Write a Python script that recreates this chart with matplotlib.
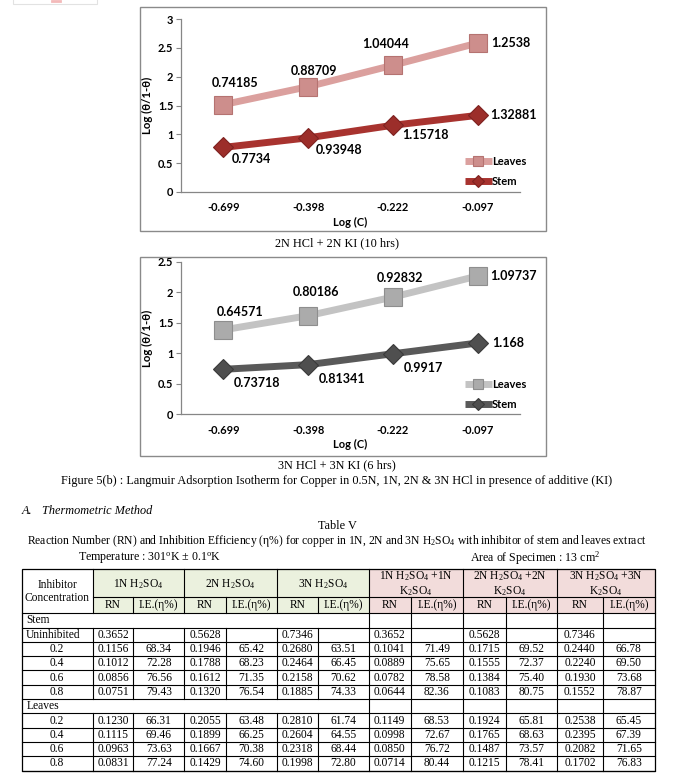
import matplotlib
matplotlib.use("Agg")
import matplotlib.pyplot as plt
import numpy as np
from matplotlib.patches import Rectangle
from matplotlib.ticker import FuncFormatter

# ── chart data (Excel stacked line: Leaves drawn on top of Stem) ─────────────
log_c      = ["-0.699", "-0.398", "-0.222", "-0.097"]
stem_2n    = [0.7734, 0.93948, 1.15718, 1.32881]
leaves_2n  = [0.74185, 0.88709, 1.04044, 1.2538]
stem_3n    = [0.73718, 0.81341, 0.9917, 1.168]
leaves_3n  = [0.64571, 0.80186, 0.92832, 1.09737]

# ── table data ───────────────────────────────────────────────────────────────
group_heads = [r"1N H$_2$SO$_4$", r"2N H$_2$SO$_4$", r"3N H$_2$SO$_4$",
               "1N H$_2$SO$_4$ +1N\nK$_2$SO$_4$",
               "2N H$_2$SO$_4$ +2N\nK$_2$SO$_4$",
               "3N H$_2$SO$_4$ +3N\nK$_2$SO$_4$"]
sub_heads   = ["RN", "I.E.(η%)"]
stem_conc   = ["Uninhibited", "0.2", "0.4", "0.6", "0.8"]
stem_rows   = [
    ["0.3652", "", "0.5628", "", "0.7346", "", "0.3652", "", "0.5628", "", "0.7346", ""],
    ["0.1156", "68.34", "0.1946", "65.42", "0.2680", "63.51", "0.1041", "71.49", "0.1715", "69.52", "0.2440", "66.78"],
    ["0.1012", "72.28", "0.1788", "68.23", "0.2464", "66.45", "0.0889", "75.65", "0.1555", "72.37", "0.2240", "69.50"],
    ["0.0856", "76.56", "0.1612", "71.35", "0.2158", "70.62", "0.0782", "78.58", "0.1384", "75.40", "0.1930", "73.68"],
    ["0.0751", "79.43", "0.1320", "76.54", "0.1885", "74.33", "0.0644", "82.36", "0.1083", "80.75", "0.1552", "78.87"],
]
leaves_conc = ["0.2", "0.4", "0.6", "0.8"]
leaves_rows = [
    ["0.1230", "66.31", "0.2055", "63.48", "0.2810", "61.74", "0.1149", "68.53", "0.1924", "65.81", "0.2538", "65.45"],
    ["0.1115", "69.46", "0.1899", "66.25", "0.2604", "64.55", "0.0998", "72.67", "0.1765", "68.63", "0.2395", "67.39"],
    ["0.0963", "73.63", "0.1667", "70.38", "0.2318", "68.44", "0.0850", "76.72", "0.1487", "73.57", "0.2082", "71.65"],
    ["0.0831", "77.24", "0.1429", "74.60", "0.1998", "72.80", "0.0714", "80.44", "0.1215", "78.41", "0.1702", "76.83"],
]

plt.rcParams["font.family"] = ["Lato", "DejaVu Sans"]
plt.rcParams["mathtext.fontset"] = "custom"
plt.rcParams["mathtext.rm"] = "Liberation Serif"
plt.rcParams["mathtext.it"] = "Liberation Serif:italic"
SERIF = ["Liberation Serif", "DejaVu Serif"]

W, H = 673, 778
fig = plt.figure(figsize=(W / 100, H / 100), dpi=100)
fig.patch.set_facecolor("white")

# overlay in pixel coordinates: boxes, captions, table
ov = fig.add_axes([0, 0, 1, 1])
ov.set_xlim(0, W)
ov.set_ylim(H, 0)
ov.axis("off")

# faint remnant at the top-left
ov.add_patch(Rectangle((13, -2), 84, 6, fill=False, ec="#e2e2e2", lw=0.8))
ov.plot([52, 60], [1, 1], color="#f3b9b9", lw=2)

# chart frames
for (x0, y0, x1, y1) in [(140, 7, 546, 231), (140, 257, 546, 456)]:
    ov.add_patch(Rectangle((x0, y0), x1 - x0, y1 - y0, fill=False,
                           ec="#8a8a8a", lw=1.0))


def px_rect(left, top, right, bottom):
    return [left / W, 1 - bottom / H, (right - left) / W, (bottom - top) / H]


def draw_chart(rect, stem, leaves, ymax, col, leaf_offs, stem_offs, leg_top):
    ax = fig.add_axes(rect)
    ax.set_facecolor("none")
    x = np.arange(len(log_c))
    leaves_top = np.add(stem, leaves)

    l_stem, = ax.plot(x, stem, color=col["stem"], lw=5, marker="D", ms=10.5,
                      mfc=col["stem_m"], mec=col["stem_e"], mew=0.8,
                      solid_capstyle="butt", label="Stem", zorder=3)
    l_leaf, = ax.plot(x, leaves_top, color=col["leaf"], lw=5, marker="s", ms=13,
                      mfc=col["leaf_m"], mec=col["leaf_e"], mew=0.8,
                      solid_capstyle="butt", label="Leaves", zorder=3)

    for i in range(len(x)):
        dx, dy = leaf_offs[i]
        ax.annotate(f"{leaves[i]:g}", (x[i], leaves_top[i]), xytext=(dx, dy),
                    textcoords="offset pixels", ha="left" if i == 3 else "center",
                    va="center", fontsize=9, fontweight="bold")
        dx, dy = stem_offs[i]
        ax.annotate(f"{stem[i]:g}", (x[i], stem[i]), xytext=(dx, dy),
                    textcoords="offset pixels", ha="left" if i == 3 else "center",
                    va="center", fontsize=9, fontweight="bold")

    ax.set_xlim(-0.5, len(x) - 0.5)
    ax.set_ylim(0, ymax)
    ax.set_yticks(np.arange(0, ymax + 0.01, 0.5))
    ax.yaxis.set_major_formatter(FuncFormatter(lambda v, p: f"{v:g}"))
    ax.set_xticks(x, log_c)
    for s in ["top", "right"]:
        ax.spines[s].set_visible(False)
    for s in ["left", "bottom"]:
        ax.spines[s].set_color("#868686")
        ax.spines[s].set_linewidth(0.9)
    ax.tick_params(axis="x", length=0, pad=7.5, labelsize=7.9)
    ax.tick_params(axis="y", length=3.5, width=0.8, color="#868686",
                   direction="out", pad=2, labelsize=7.9)
    for t in ax.get_xticklabels() + ax.get_yticklabels():
        t.set_fontweight("bold")
    ax.set_xlabel("Log (C)", fontsize=8, fontweight="bold", labelpad=2.5)
    ax.set_ylabel("Log (θ/1-θ)", fontsize=8.2, fontweight="bold", labelpad=3.5)

    ax.legend([l_leaf, l_stem], ["Leaves", "Stem"], loc="upper left",
              bbox_to_anchor=((465 - 181) / 339, leg_top), frameon=False,
              borderpad=0, borderaxespad=0, handlelength=2.4,
              handletextpad=0.05, labelspacing=0.8, markerscale=0.55,
              prop={"size": 8, "weight": "bold"})
    return ax


red = dict(stem="#A8332F", stem_m="#9C2E2A", stem_e="#7E2220",
           leaf="#DBA09E", leaf_m="#CD8E8C", leaf_e="#B57371")
gray = dict(stem="#595959", stem_m="#4F4F4F", stem_e="#3A3A3A",
            leaf="#C3C3C3", leaf_m="#ABABAB", leaf_e="#8E8E8E")

draw_chart(px_rect(181, 19, 520, 192), stem_2n, leaves_2n, 3, red,
           leaf_offs=[(12, 22), (6, 16), (-7, 21), (14, 0)],
           stem_offs=[(28, -12), (31, -12), (33, -10), (13, 0)],
           leg_top=0.21)
draw_chart(px_rect(181, 261.7, 520, 414.3), stem_3n, leaves_3n, 2.5, gray,
           leaf_offs=[(17, 18), (8, 24), (7, 19), (13, 0)],
           stem_offs=[(34, -14), (34, -14), (31, -14), (15, 0)],
           leg_top=0.23)

# captions
cap = dict(fontsize=8.8, family=SERIF, ha="center", va="center")
ov.text(337, 243, "2N HCl + 2N KI (10 hrs)", **cap)
ov.text(337, 465, "3N HCl + 3N KI (6 hrs)", **cap)
ov.text(337, 481, "Figure 5(b) : Langmuir Adsorption Isotherm for Copper in "
        "0.5N, 1N, 2N & 3N HCl in presence of additive (KI)", **cap)

ov.text(22, 511, "A.", fontsize=8.8, family=SERIF, style="italic", va="center")
ov.text(42, 511, "Thermometric Method", fontsize=8.8, family=SERIF,
        style="italic", va="center")
ov.text(337, 526, "Table V", **cap)
ov.text(337, 541, "Reaction Number (RN) and Inhibition Efficiency (η%) for copper "
        "in 1N, 2N and 3N H$_2$SO$_4$ with inhibitor of stem and leaves extract",
        fontsize=8.4, family=SERIF, ha="center", va="center")
ov.text(78, 558, r"Temperature : 301$^{\mathrm{o}}$K ± 0.1$^{\mathrm{o}}$K",
        fontsize=8.6, family=SERIF, va="center")
ov.text(470, 558, r"Area of Specimen : 13 cm$^{2}$", fontsize=8.6, family=SERIF,
        va="center")

# ── table ────────────────────────────────────────────────────────────────────
col_x = [21.7, 92.7, 133.3, 184.3, 226, 276.7, 318.3, 368.7,
         410.7, 463, 505.7, 557, 603, 654.7]
t_top, t_mid, t_sub = 569.3, 597.3, 613.3
row_h = 14.3
green, pink = "#EBF1DE", "#F2DCDB"
lc = dict(color="black", lw=0.8)
tfont = dict(fontsize=8.3, family=SERIF, va="center")

for g in range(6):
    x0, x1 = col_x[1 + 2 * g], col_x[3 + 2 * g]
    ov.add_patch(Rectangle((x0, t_top), x1 - x0, t_sub - t_top,
                           fc=green if g < 3 else pink, ec="none"))
    ov.text((x0 + x1) / 2, (t_top + t_mid) / 2 + 0.5, group_heads[g],
            ha="center", linespacing=1.15, **tfont)
    for k in range(2):
        xa, xb = col_x[1 + 2 * g + k], col_x[2 + 2 * g + k]
        ov.text((xa + xb) / 2, (t_mid + t_sub) / 2, sub_heads[k],
                ha="center", **tfont)

ov.text((col_x[0] + col_x[1]) / 2, (t_top + t_sub) / 2, "Inhibitor\nConcentration",
        ha="center", linespacing=1.1, **tfont)

# header lines
ov.plot([col_x[1], col_x[-1]], [t_mid, t_mid], **lc)
ov.plot([col_x[0], col_x[-1]], [t_sub, t_sub], **lc)
for i in range(1, 13, 2):
    ov.plot([col_x[i], col_x[i]], [t_top, t_sub], **lc)
for i in range(2, 13, 2):
    ov.plot([col_x[i], col_x[i]], [t_mid, t_sub], **lc)

body = [("Stem", None)] + list(zip(stem_conc, stem_rows)) + \
       [("Leaves", None)] + list(zip(leaves_conc, leaves_rows))
y = t_sub
for label, vals in body:
    y1 = y + row_h
    yc = (y + y1) / 2
    ov.plot([col_x[0], col_x[-1]], [y1, y1], **lc)
    if vals is None:
        ov.text(col_x[0] + 5, yc, label, ha="left", **tfont)
        verts = range(7, 13)
    else:
        if label == "Uninhibited":
            ov.text(col_x[0] + 4, yc, label, ha="left", **tfont)
        else:
            ov.text((col_x[0] + col_x[1]) / 2, yc, label, ha="center", **tfont)
        for k, v in enumerate(vals):
            ov.text((col_x[1 + k] + col_x[2 + k]) / 2, yc, v, ha="center", **tfont)
        verts = range(1, 13)
    for i in verts:
        ov.plot([col_x[i], col_x[i]], [y, y1], **lc)
    y = y1

ov.add_patch(Rectangle((col_x[0], t_top), col_x[-1] - col_x[0], y - t_top,
                       fill=False, ec="black", lw=0.9))

fig.savefig("out.png", dpi=100)
